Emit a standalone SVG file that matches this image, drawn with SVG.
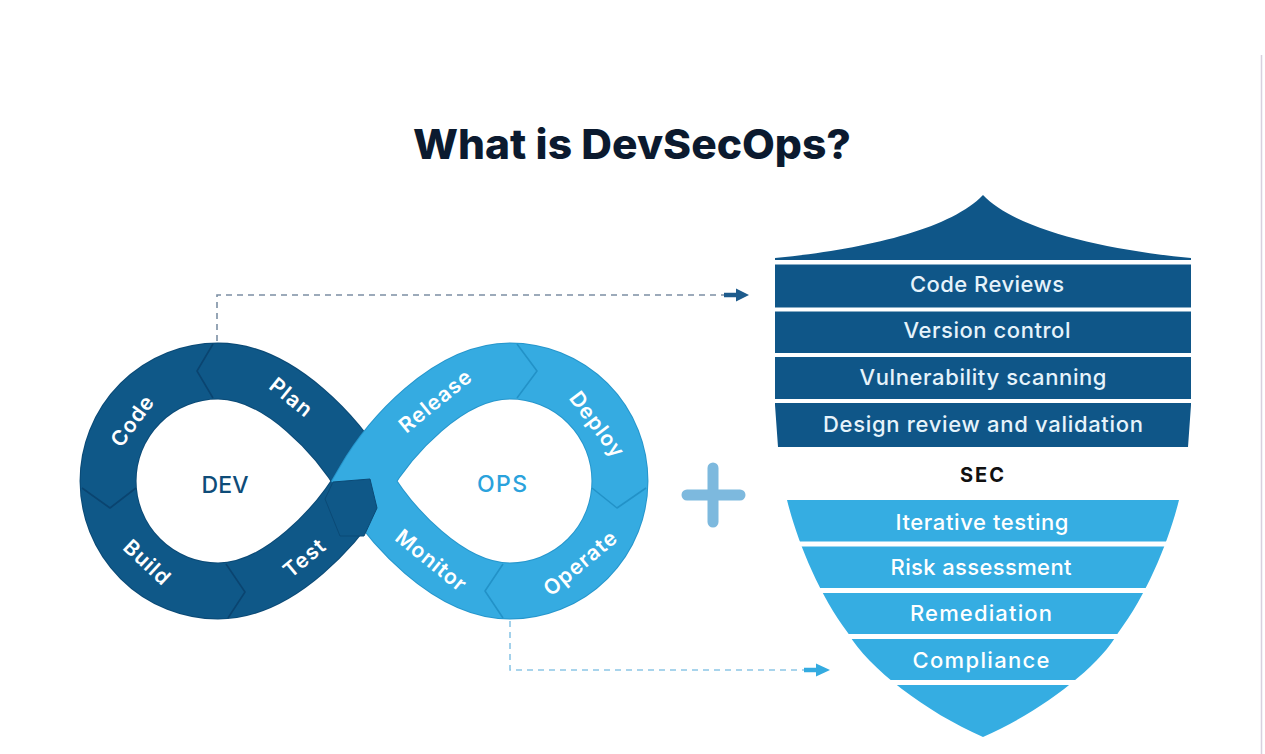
<svg xmlns="http://www.w3.org/2000/svg" width="1265" height="754" viewBox="0 0 1265 754">
<style>
.t{font-family:Inter,"Liberation Sans",Arial,sans-serif}
.band{font-size:22px;font-weight:500;fill:#e6f3fb;text-anchor:middle}
.lbl{font-size:21px;font-weight:600;fill:#ffffff;text-anchor:middle;dominant-baseline:central}
.chevD{fill:none;stroke:#0a4470;stroke-width:1.6;stroke-linejoin:round}
.chevL{fill:none;stroke:#2292c8;stroke-width:1.6;stroke-linejoin:round}
.gap{fill:#ffffff}
.dash{fill:none;stroke-width:1.6;stroke-dasharray:6 5}
</style>
<rect width="1265" height="754" fill="#ffffff"/>
<line x1="1261.5" y1="55" x2="1261.5" y2="754" stroke="#d8d0de" stroke-width="1.5"/>

<text id="title" class="t" x="632" y="159" font-size="41" font-weight="800" fill="#0b1a2f" text-anchor="middle" textLength="438" lengthAdjust="spacingAndGlyphs">What is DevSecOps?</text>

<g id="connectors">
  <path class="dash" stroke="#7c8fa4" d="M217,341 V295 H726"/>
  <path d="M724,295 H738" stroke="#1d5b8c" stroke-width="4.5"/>
  <polygon points="736,288.5 749,295 736,301.5" fill="#1d5b8c"/>
  <path class="dash" stroke="#8cc6e6" d="M510,621 V670 H806"/>
  <path d="M804,670 H818" stroke="#33abe0" stroke-width="4.5"/>
  <polygon points="816,663.5 830,670 816,676.5" fill="#33abe0"/>
</g>

<g id="dev-loop">
  <path d="M364,481 C339,438 280,371 218,371 A110,110 0 0 0 218,591 C280,591 339,524 364,481 Z" fill="none" stroke="#0b4a76" stroke-width="57"/>
  <path d="M364,481 C339,438 280,371 218,371 A110,110 0 0 0 218,591 C280,591 339,524 364,481 Z" fill="none" stroke="#0f5888" stroke-width="55"/>
  <polyline class="chevD" points="213,344 197,371 213,398"/>
  <polyline class="chevD" points="82,488 110,508 136,488"/>
  <polyline class="chevD" points="226,564 245,592 228,618"/>
</g>

<g id="ops-loop">
  <path d="M364,481 C389,438 448,371 510,371 A110,110 0 0 1 510,591 C448,591 389,524 364,481 Z" fill="none" stroke="#2696cc" stroke-width="57"/>
  <path d="M364,481 C389,438 448,371 510,371 A110,110 0 0 1 510,591 C448,591 389,524 364,481 Z" fill="none" stroke="#35abe1" stroke-width="55"/>
  <polyline class="chevL" points="517,344 537,371 517,398"/>
  <polyline class="chevL" points="592,488 617,508 646,488"/>
  <polyline class="chevL" points="503,618 485,591 503,564"/>
</g>

<g id="test-tip">
  <polygon points="333,482 370,479 377,508 364,536 340,536 325,499" fill="#0f5888" stroke="#0b4a76" stroke-width="1"/>
</g>

<g id="dev-labels">
  <text class="t lbl" x="291" y="397" transform="rotate(39 291 397)" textLength="48">Plan</text>
  <text class="t lbl" x="132" y="421" transform="rotate(-54 132 421)" textLength="57">Code</text>
  <text class="t lbl" x="147" y="562" transform="rotate(43 147 562)" textLength="55">Build</text>
  <text class="t lbl" x="304" y="558" transform="rotate(-40 304 558)" textLength="47">Test</text>
  <text id="dev" class="t" x="225" y="493" font-size="23" font-weight="500" fill="#0e4c78" text-anchor="middle" textLength="47">DEV</text>
</g>

<g id="ops-labels">
  <text class="t lbl" x="435" y="401" transform="rotate(-39 435 401)" textLength="86">Release</text>
  <text class="t lbl" x="597" y="424" transform="rotate(53 597 424)" textLength="76">Deploy</text>
  <text class="t lbl" x="580" y="563" transform="rotate(-40 580 563)" textLength="88">Operate</text>
  <text class="t lbl" x="431" y="560" transform="rotate(39 431 560)" textLength="84">Monitor</text>
  <text id="ops" class="t" x="502" y="492" font-size="23" font-weight="500" fill="#2aa2dc" text-anchor="middle" textLength="50">OPS</text>
</g>

<g id="plus">
  <path d="M687,495 H740 M713,468 V522" stroke="#7db9de" stroke-width="11" stroke-linecap="round" fill="none"/>
</g>

<g id="shield-top">
  <path d="M775,258 C860,250 950,230 983,195 C1016,230 1106,250 1191,258 L1191,405 L1188,447 L778,447 L775,405 Z" fill="#0f5688"/>
  <rect class="gap" x="770" y="260" width="426" height="4.5"/>
  <rect class="gap" x="770" y="307.5" width="426" height="4"/>
  <rect class="gap" x="770" y="353" width="426" height="4"/>
  <rect class="gap" x="770" y="399" width="426" height="4"/>
  <text class="t band" x="987" y="292" textLength="154">Code Reviews</text>
  <text class="t band" x="987" y="338" textLength="167">Version control</text>
  <text class="t band" x="983" y="385" textLength="247">Vulnerability scanning</text>
  <text class="t band" x="983" y="432" textLength="320">Design review and validation</text>
</g>

<g id="sec">
  <text class="t" x="982" y="482" font-size="20" font-weight="700" fill="#111111" text-anchor="middle" textLength="44">SEC</text>
</g>

<g id="shield-bottom">
  <path d="M787,500 H1179 C1169,540 1148,593 1118,633 C1098,668 1040,712 983,737 C926,712 868,668 848,633 C818,593 797,540 787,500 Z" fill="#35ade2"/>
  <rect class="gap" x="770" y="541.5" width="426" height="5"/>
  <rect class="gap" x="770" y="588" width="426" height="5"/>
  <rect class="gap" x="770" y="634" width="426" height="5"/>
  <rect class="gap" x="770" y="680" width="426" height="5"/>
  <text class="t band" x="982" y="530" textLength="173" style="fill:#ffffff">Iterative testing</text>
  <text class="t band" x="981" y="575" textLength="181" style="fill:#ffffff">Risk assessment</text>
  <text class="t band" x="981" y="621" textLength="142" style="fill:#ffffff">Remediation</text>
  <text class="t band" x="981" y="668" textLength="137" style="fill:#ffffff">Compliance</text>
</g>
</svg>
